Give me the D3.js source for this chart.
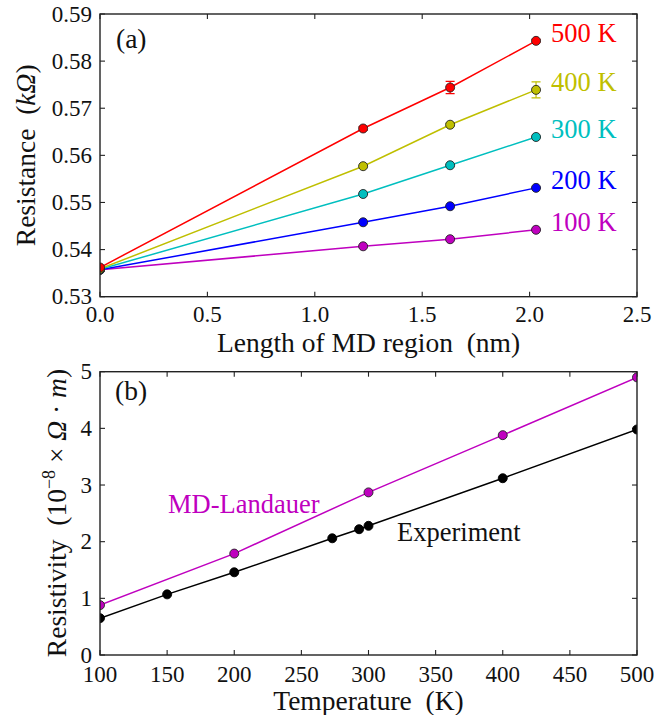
<!DOCTYPE html>
<html><head><meta charset="utf-8">
<script src="https://cdn.jsdelivr.net/npm/d3@7"></script>
<style>
html,body{margin:0;padding:0;background:#fff;}
svg{display:block;font-family:"Liberation Serif","Times New Roman",serif;}
</style></head>
<body>
<svg id="chart" width="669" height="715"></svg>
<script>
// ---------- Panel (a) data ----------
const lengthsNm = [0, 1.225, 1.63, 2.03];
const tempLabels = ["100 K", "200 K", "300 K", "400 K", "500 K"];
const tempColors = ["#bf00bf", "#0000ff", "#00bfbf", "#bfbf00", "#ff0000"];
const res100 = [0.5357, 0.5407, 0.5422, 0.5442];
const res200 = [0.5357, 0.5458, 0.5492, 0.5531];
const res300 = [0.5358, 0.5518, 0.5579, 0.5639];
const res400 = [0.5359, 0.5577, 0.5665, 0.5739];
const res500 = [0.5362, 0.5657, 0.5744, 0.5843];
const err100 = [0, 0.0001, 0.0001, 0.0001];
const err200 = [0, 0.0001, 0.0001, 0.0001];
const err300 = [0, 0.0001, 0.0002, 0.0002];
const err400 = [0, 0.0002, 0.0003, 0.0017];
const err500 = [0, 0.0004, 0.0013, 0.0003];
const xTicksA = [0, 0.5, 1.0, 1.5, 2.0, 2.5];
const yTicksA = [0.53, 0.54, 0.55, 0.56, 0.57, 0.58, 0.59];

// ---------- Panel (b) data ----------
const mdTemps = [100, 200, 300, 400, 500];
const mdRho = [0.88, 1.79, 2.87, 3.88, 4.90];
const expTemps = [100, 150, 200, 273, 293, 300, 400, 500];
const expRho = [0.65, 1.07, 1.46, 2.06, 2.22, 2.28, 3.12, 3.98];
const xTicksB = [100, 150, 200, 250, 300, 350, 400, 450, 500];
const yTicksB = [0, 1, 2, 3, 4, 5];

const svg = d3.select("#chart");
const spineColor = "#222";
const tickLen = 5;
const tickFont = 23;
const labelFont = 27.5;
const annotFont = 26.5;

function frame(g, x, y, xTicks, yTicks, xFmt, yFmt, xLabBase, clipId) {
  const [x0, x1] = x.range();
  const [y0, y1] = y.range(); // y0 bottom, y1 top
  g.append("clipPath").attr("id", clipId).append("rect")
    .attr("x", x0).attr("y", y1).attr("width", x1 - x0).attr("height", y0 - y1);
  const t = g.append("g").attr("stroke", spineColor).attr("stroke-width", 1.1);
  xTicks.forEach(v => {
    t.append("line").attr("x1", x(v)).attr("x2", x(v)).attr("y1", y0).attr("y2", y0 - tickLen);
    t.append("line").attr("x1", x(v)).attr("x2", x(v)).attr("y1", y1).attr("y2", y1 + tickLen);
  });
  yTicks.forEach(v => {
    t.append("line").attr("x1", x0).attr("x2", x0 + tickLen).attr("y1", y(v)).attr("y2", y(v));
    t.append("line").attr("x1", x1).attr("x2", x1 - tickLen).attr("y1", y(v)).attr("y2", y(v));
  });
  xTicks.forEach(v => {
    g.append("text").attr("x", x(v)).attr("y", y0 + xLabBase).attr("text-anchor", "middle")
      .attr("font-size", tickFont).attr("fill", "#111").text(xFmt(v));
  });
  yTicks.forEach(v => {
    g.append("text").attr("x", x0 - 8).attr("y", y(v) + 7.5).attr("text-anchor", "end")
      .attr("font-size", tickFont).attr("fill", "#111").text(yFmt(v));
  });
  return () => g.append("rect").attr("x", x0).attr("y", y1).attr("width", x1 - x0).attr("height", y0 - y1)
    .attr("fill", "none").attr("stroke", spineColor).attr("stroke-width", 1.4);
}

// ================= Panel (a) =================
const xA = d3.scaleLinear().domain([0, 2.5]).range([100, 637]);
const yA = d3.scaleLinear().domain([0.53, 0.59]).range([296.7, 14]);
const gA = svg.append("g");
const spineA = frame(gA, xA, yA, xTicksA, yTicksA, d3.format(".1f"), d3.format(".2f"), 25, "clipA");

const seriesA = [res100, res200, res300, res400, res500];
const errsA = [err100, err200, err300, err400, err500];
const lineA = d3.line().x((d, i) => xA(lengthsNm[i])).y(d => yA(d));
const plotA = gA.append("g").attr("clip-path", "url(#clipA)");
seriesA.forEach((s, k) => {
  const c = tempColors[k];
  plotA.append("path").attr("d", lineA(s)).attr("fill", "none").attr("stroke", c).attr("stroke-width", 1.5);
  s.forEach((v, i) => {
    const e = errsA[k][i];
    if (e <= 0) return;
    const xx = xA(lengthsNm[i]);
    plotA.append("line").attr("x1", xx).attr("x2", xx).attr("y1", yA(v - e)).attr("y2", yA(v + e))
      .attr("stroke", c).attr("stroke-width", 1.2);
    [v - e, v + e].forEach(w => plotA.append("line").attr("x1", xx - 4.5).attr("x2", xx + 4.5)
      .attr("y1", yA(w)).attr("y2", yA(w)).attr("stroke", c).attr("stroke-width", 1.2));
  });
  plotA.selectAll(null).data(s).enter().append("circle")
    .attr("cx", (d, i) => xA(lengthsNm[i])).attr("cy", d => yA(d)).attr("r", 4.5)
    .attr("fill", c).attr("stroke", "#222").attr("stroke-width", 0.9);
});
seriesA.forEach((s, k) => {
  gA.append("text").attr("x", xA(lengthsNm[lengthsNm.length - 1]) + 15).attr("y", yA(s[s.length - 1]) + 1.5)
    .attr("font-size", annotFont).attr("fill", tempColors[k]).text(tempLabels[k]);
});
spineA();
gA.append("text").attr("x", 116).attr("y", 48).attr("font-size", labelFont).attr("fill", "#111").text("(a)");
gA.append("text").attr("x", 368.5).attr("y", 351.5).attr("text-anchor", "middle").attr("font-size", labelFont)
  .attr("fill", "#111").text("Length of MD region\u00a0\u00a0(nm)");
const ylA = gA.append("text").attr("transform", "translate(35,155.3) rotate(-90)")
  .attr("text-anchor", "middle").attr("font-size", labelFont).attr("fill", "#111");
ylA.append("tspan").text("Resistance\u00a0\u00a0(");
ylA.append("tspan").attr("font-style", "italic").text("k\u03a9");
ylA.append("tspan").text(")");

// ================= Panel (b) =================
const xB = d3.scaleLinear().domain([100, 500]).range([100, 637]);
const yB = d3.scaleLinear().domain([0, 5]).range([655, 371.7]);
const gB = svg.append("g");
const spineB = frame(gB, xB, yB, xTicksB, yTicksB, d3.format("d"), d3.format("d"), 27, "clipB");
const plotB = gB.append("g").attr("clip-path", "url(#clipB)");
const lineB = d3.line().x(d => xB(d[0])).y(d => yB(d[1]));
const mdPts = mdTemps.map((t, i) => [t, mdRho[i]]);
const expPts = expTemps.map((t, i) => [t, expRho[i]]);
plotB.append("path").attr("d", lineB(expPts)).attr("fill", "none").attr("stroke", "#000").attr("stroke-width", 1.5);
plotB.append("path").attr("d", lineB(mdPts)).attr("fill", "none").attr("stroke", "#bf00bf").attr("stroke-width", 1.5);
plotB.selectAll(null).data(expPts).enter().append("circle")
  .attr("cx", d => xB(d[0])).attr("cy", d => yB(d[1])).attr("r", 4.5)
  .attr("fill", "#000").attr("stroke", "#000").attr("stroke-width", 0.9);
plotB.selectAll(null).data(mdPts).enter().append("circle")
  .attr("cx", d => xB(d[0])).attr("cy", d => yB(d[1])).attr("r", 4.5)
  .attr("fill", "#bf00bf").attr("stroke", "#222").attr("stroke-width", 0.9);
spineB();
gB.append("text").attr("x", 115).attr("y", 400).attr("font-size", labelFont).attr("fill", "#111").text("(b)");
gB.append("text").attr("x", 168).attr("y", 513).attr("font-size", annotFont).attr("fill", "#bf00bf").text("MD-Landauer");
gB.append("text").attr("x", 397).attr("y", 540.5).attr("font-size", annotFont).attr("fill", "#111").text("Experiment");
gB.append("text").attr("x", 368.5).attr("y", 710).attr("text-anchor", "middle").attr("font-size", labelFont)
  .attr("fill", "#111").text("Temperature\u00a0\u00a0(K)");
const ylB = gB.append("text").attr("transform", "translate(66,513) rotate(-90)")
  .attr("text-anchor", "middle").attr("font-size", labelFont).attr("fill", "#111");
ylB.append("tspan").text("Resistivity\u00a0\u00a0(10");
ylB.append("tspan").attr("font-size", 18).attr("dy", -11).text("\u22128");
ylB.append("tspan").attr("dy", 11).text("\u00a0\u00d7\u00a0");
ylB.append("tspan").attr("font-style", "italic").text("\u03a9");
ylB.append("tspan").text("\u00a0\u00b7\u00a0");
ylB.append("tspan").attr("font-style", "italic").text("m");
ylB.append("tspan").text(")");
</script>
</body></html>
